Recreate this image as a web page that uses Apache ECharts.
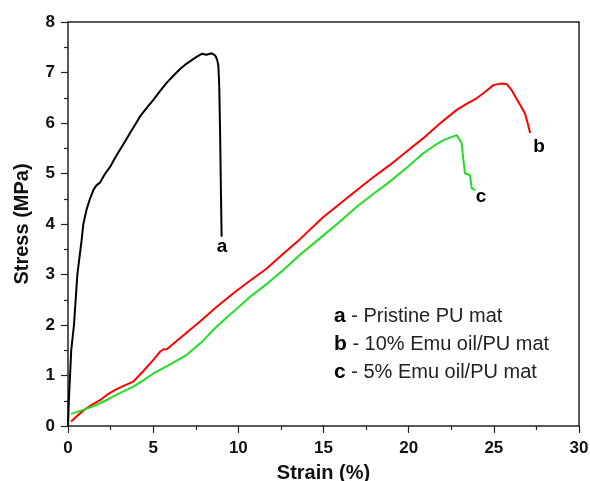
<!DOCTYPE html>
<html>
<head>
<meta charset="utf-8">
<script src="https://cdn.jsdelivr.net/npm/echarts@6/dist/echarts.min.js"></script>
<style>
  html, body { margin: 0; padding: 0; background: #fff; }
  #chart { width: 590px; height: 481px; }
</style>
</head>
<body>
<div id="chart"></div>
<script>
// curve a - Pristine PU mat (strain %, stress MPa)
const curveA = [
  [0.0, 0.0], [0.05, 0.5], [0.12, 1.0], [0.19, 1.5], [0.35, 2.0], [0.45, 2.5], [0.55, 3.0],
  [0.8, 3.68], [0.9, 4.0], [1.1, 4.3], [1.29, 4.5], [1.5, 4.68], [1.68, 4.77], [1.88, 4.82],
  [2.15, 4.98], [2.47, 5.13], [2.75, 5.3], [3.05, 5.47], [3.34, 5.63], [3.64, 5.8],
  [3.93, 5.96], [4.23, 6.13], [4.6, 6.29], [5.01, 6.46], [5.4, 6.63], [5.8, 6.8],
  [6.2, 6.94], [6.58, 7.07], [6.9, 7.16], [7.16, 7.22], [7.5, 7.3], [7.85, 7.37],
  [8.14, 7.35], [8.44, 7.38], [8.6, 7.35], [8.69, 7.31], [8.78, 7.22], [8.83, 7.12],
  [8.88, 6.72], [8.93, 5.8], [8.98, 4.6], [9.02, 3.75]
];
// curve b - 10% Emu oil/PU mat
const curveB = [
  [0.18, 0.09], [0.6, 0.22], [1.0, 0.33], [1.4, 0.42], [1.88, 0.51], [2.3, 0.62],
  [2.8, 0.72], [3.3, 0.8], [3.84, 0.88], [4.4, 1.08], [5.01, 1.31], [5.4, 1.47],
  [5.6, 1.52], [5.8, 1.52], [6.8, 1.8], [7.75, 2.07], [8.7, 2.35], [9.71, 2.63],
  [10.7, 2.88], [11.67, 3.12], [12.6, 3.4], [13.62, 3.7], [14.99, 4.14], [16.0, 4.41],
  [16.95, 4.67], [17.9, 4.92], [18.9, 5.17], [19.9, 5.44], [20.86, 5.7], [21.8, 5.98],
  [22.82, 6.26], [23.4, 6.38], [23.99, 6.49], [24.5, 6.62], [24.97, 6.75], [25.4, 6.78],
  [25.76, 6.77], [26.05, 6.65], [26.3, 6.5], [26.54, 6.36], [26.83, 6.19], [27.0, 5.98],
  [27.13, 5.8]
];
// curve c - 5% Emu oil/PU mat
const curveC = [
  [0.18, 0.24], [0.9, 0.32], [1.4, 0.38], [1.88, 0.45], [2.2, 0.5], [2.47, 0.55],
  [3.1, 0.66], [3.84, 0.78], [4.4, 0.9], [5.01, 1.04], [6.0, 1.22], [6.97, 1.41],
  [7.9, 1.68], [8.73, 1.97], [9.7, 2.26], [10.69, 2.56], [11.7, 2.82], [12.64, 3.09],
  [13.62, 3.39], [14.8, 3.72], [15.9, 4.03], [16.95, 4.34], [17.9, 4.59], [18.9, 4.84],
  [19.9, 5.12], [20.86, 5.4], [21.5, 5.55], [22.04, 5.66], [22.5, 5.72], [22.82, 5.76],
  [23.11, 5.6], [23.2, 5.3], [23.31, 5.0], [23.6, 4.97], [23.7, 4.71], [23.9, 4.67]
];
const curveLabels = [
  { name: 'a', value: [9.05, 3.55] },
  { name: 'b', value: [27.65, 5.52] },
  { name: 'c', value: [24.25, 4.53] }
];
const legendRows = [
  ['a', 'Pristine PU mat'],
  ['b', '10% Emu oil/PU mat'],
  ['c', '5% Emu oil/PU mat']
];

const axisColor = '#222';
const fontFam = 'Liberation Sans, Arial';
const tickFont = { fontFamily: fontFam, fontWeight: 'bold', fontSize: 17, color: '#111' };
const nameFont = { fontFamily: fontFam, fontWeight: 'bold', fontSize: 20, color: '#111' };

const chart = echarts.init(document.getElementById('chart'));

const option = {
  animation: false,
  grid: { left: 68, top: 22, right: 11, bottom: 55, containLabel: false, outerBoundsMode: 'none' },
  xAxis: [
    {
      type: 'value', min: 0, max: 30, interval: 5,
      name: 'Strain (%)', nameLocation: 'middle', nameGap: 37,
      nameTextStyle: nameFont,
      axisLine: { show: true, lineStyle: { color: axisColor, width: 1.5 } },
      axisTick: { show: true, length: 7, lineStyle: { color: axisColor, width: 1.2 } },
      minorTick: { show: true, splitNumber: 2, length: 4, lineStyle: { color: axisColor, width: 1.2 } },
      axisLabel: Object.assign({ margin: 14 }, tickFont),
      splitLine: { show: false }
    },
    {
      type: 'value', min: 0, max: 30, position: 'top',
      axisLine: { show: true, onZero: false, lineStyle: { color: axisColor, width: 1.5 } },
      axisTick: { show: false }, axisLabel: { show: false }, splitLine: { show: false }
    }
  ],
  yAxis: [
    {
      type: 'value', min: 0, max: 8, interval: 1,
      name: 'Stress (MPa)', nameLocation: 'middle', nameGap: 36, nameRotate: 90,
      nameTextStyle: nameFont,
      axisLine: { show: true, lineStyle: { color: axisColor, width: 1.5 } },
      axisTick: { show: true, length: 7, lineStyle: { color: axisColor, width: 1.2 } },
      minorTick: { show: true, splitNumber: 2, length: 4, lineStyle: { color: axisColor, width: 1.2 } },
      axisLabel: Object.assign({ margin: 13 }, tickFont),
      splitLine: { show: false }
    },
    {
      type: 'value', min: 0, max: 8, position: 'right',
      axisLine: { show: true, onZero: false, lineStyle: { color: axisColor, width: 1.5 } },
      axisTick: { show: false }, axisLabel: { show: false }, splitLine: { show: false }
    }
  ],
  series: [
    { name: 'a', type: 'line', data: curveA, showSymbol: false,
      lineStyle: { color: '#000', width: 2 } },
    { name: 'b', type: 'line', data: curveB, showSymbol: false,
      lineStyle: { color: '#f00', width: 2 } },
    { name: 'c', type: 'line', data: curveC, showSymbol: false,
      lineStyle: { color: '#22dd22', width: 2 } },
    { type: 'scatter', data: curveLabels, symbolSize: 0, silent: true,
      itemStyle: { opacity: 1 },
      label: { show: true, position: 'inside', formatter: '{b}',
        fontFamily: fontFam, fontWeight: 'bold', fontSize: 19, color: '#000' } }
  ],
  graphic: legendRows.map((row, i) => ({
    type: 'text', left: 334, top: 306 + i * 28,
    style: {
      text: '{k|' + row[0] + '} - ' + row[1],
      fontFamily: fontFam, fontSize: 20, fill: '#222',
      rich: { k: { fontWeight: 'bold', fontSize: 21, fontFamily: fontFam, fill: '#000' } }
    }
  }))
};

chart.setOption(option);
</script>
</body>
</html>
